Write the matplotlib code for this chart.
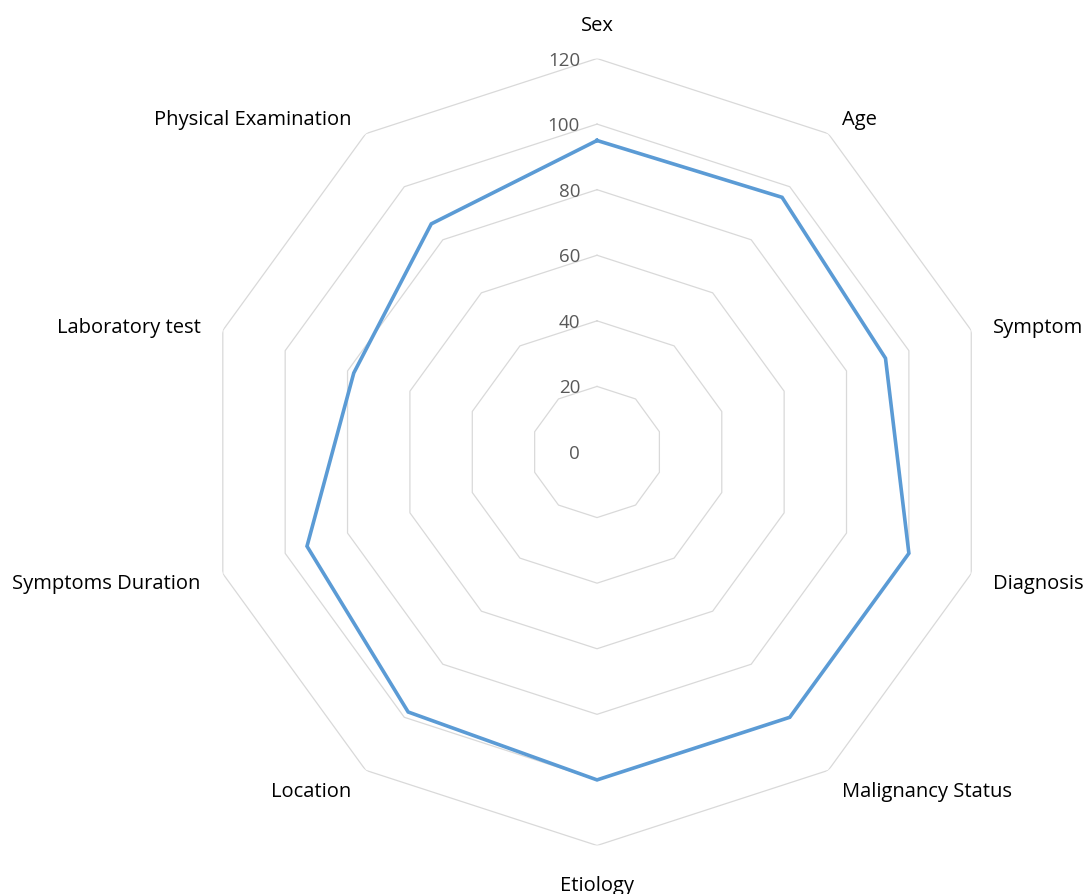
import numpy as np
import matplotlib
matplotlib.use('Agg')
import matplotlib.pyplot as plt

# data
categories = ['Sex', 'Age', 'Symptom', 'Diagnosis', 'Malignancy Status',
              'Etiology', 'Location', 'Symptoms Duration', 'Laboratory test',
              'Physical Examination']
values = [95, 96, 92.5, 100, 100, 100, 98, 93, 78, 86]
ring_levels = [0, 20, 40, 60, 80, 100, 120]
ring_labels = ['0', '20', '40', '60', '80', '100', '120']

plt.rcParams['font.family'] = ['Open Sans', 'DejaVu Sans']

n = len(categories)
angles = np.linspace(0, 2 * np.pi, n, endpoint=False)

fig = plt.figure(figsize=(10.86, 8.95), dpi=100)
ax = fig.add_axes([0.1874, 0.0542, 0.7247, 0.8793], projection='polar')
ax.set_theta_zero_location('N')
ax.set_theta_direction(-1)
ax.set_ylim(0, 120)
ax.grid(False)
ax.spines['polar'].set_visible(False)
ax.set_xticks([])
ax.set_yticks([])

closed = np.append(angles, angles[0])

# decagon grid rings
for lvl in ring_levels[1:]:
    ax.plot(closed, [lvl] * (n + 1), color='#D9D9D9', lw=0.9, zorder=1)

# ring value labels along the top axis
for lvl, lab in zip(ring_levels, ring_labels):
    ax.annotate(lab, xy=(0, lvl), xytext=(-17, -1), textcoords='offset pixels',
                ha='right', va='center', fontsize=13.5, color='#595959')

# data line
ax.plot(closed, np.append(values, values[0]), color='#5B9BD5', lw=2.6,
        zorder=3, solid_joinstyle='miter')

# category labels outside the outer ring
for ang, cat in zip(angles, categories):
    s, c = np.sin(ang), np.cos(ang)
    if abs(s) < 0.01:
        ha = 'center'
        dx, dy = 0, 37 if c > 0 else -37
    else:
        ha = 'left' if s > 0 else 'right'
        if abs(c) > 0.5:
            dx, dy = 14 * np.sign(s), 18 * np.sign(c)
        else:
            dx, dy = 22 * np.sign(s), 6 * np.sign(c)
    ax.annotate(cat, xy=(ang, 120), xytext=(dx, dy - 3), textcoords='offset pixels',
                ha=ha, va='center', fontsize=14.5, color='#000000',
                annotation_clip=False)

fig.savefig('out.png', dpi=100)
